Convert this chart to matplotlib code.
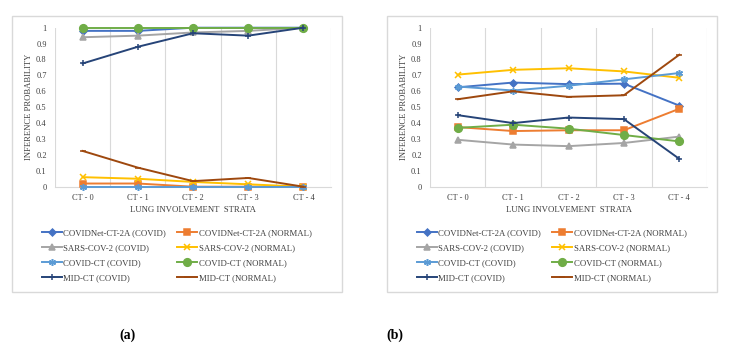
import matplotlib
matplotlib.use("Agg")
import matplotlib.pyplot as plt
from matplotlib.patches import Rectangle

categories = ["CT - 0", "CT - 1", "CT - 2", "CT - 3", "CT - 4"]
series_names = [
    "COVIDNet-CT-2A (COVID)", "COVIDNet-CT-2A (NORMAL)",
    "SARS-COV-2 (COVID)", "SARS-COV-2 (NORMAL)",
    "COVID-CT (COVID)", "COVID-CT (NORMAL)",
    "MID-CT (COVID)", "MID-CT (NORMAL)",
]

# Panel (a)
a_covidnet_covid = [0.98, 0.98, 1.00, 1.00, 1.00]
a_covidnet_normal = [0.02, 0.02, 0.00, 0.00, 0.00]
a_sars_covid = [0.94, 0.95, 0.97, 0.98, 1.00]
a_sars_normal = [0.06, 0.05, 0.03, 0.015, 0.00]
a_covidct_covid = [0.00, 0.00, 0.00, 0.00, 0.00]
a_covidct_normal = [1.00, 1.00, 1.00, 1.00, 1.00]
a_midct_covid = [0.775, 0.88, 0.965, 0.95, 1.00]
a_midct_normal = [0.225, 0.12, 0.035, 0.055, 0.00]

# Panel (b)
b_covidnet_covid = [0.625, 0.655, 0.645, 0.648, 0.51]
b_covidnet_normal = [0.375, 0.35, 0.355, 0.355, 0.49]
b_sars_covid = [0.295, 0.265, 0.255, 0.275, 0.315]
b_sars_normal = [0.705, 0.735, 0.745, 0.725, 0.685]
b_covidct_covid = [0.63, 0.605, 0.635, 0.675, 0.715]
b_covidct_normal = [0.37, 0.39, 0.365, 0.325, 0.285]
b_midct_covid = [0.45, 0.40, 0.435, 0.425, 0.175]
b_midct_normal = [0.55, 0.60, 0.565, 0.575, 0.83]

panel_a = [a_covidnet_covid, a_covidnet_normal, a_sars_covid, a_sars_normal,
           a_covidct_covid, a_covidct_normal, a_midct_covid, a_midct_normal]
panel_b = [b_covidnet_covid, b_covidnet_normal, b_sars_covid, b_sars_normal,
           b_covidct_covid, b_covidct_normal, b_midct_covid, b_midct_normal]

colors = ["#4472C4", "#ED7D31", "#A5A5A5", "#FFC000",
          "#5B9BD5", "#70AD47", "#264478", "#9E480E"]
markers = ["D", "s", "^", "x", (6, 2, 0), "o", "+", "_"]
msizes = [3.5, 4.5, 4.5, 5, 5, 5.5, 5, 4]

plt.rcParams['font.family'] = ['Liberation Serif', 'DejaVu Serif']

W, H = 729, 358
fig = plt.figure(figsize=(W / 100, H / 100), dpi=100)

def fx(px):
    return px / W

def fy(py):
    return 1 - py / H

panels = [
    dict(data=panel_a, box=(12, 16, 342, 292), plot=(55, 27.7, 331, 186.7),
         ylab_x=29, leg=(42, 229), cap="(a)", cap_x=127),
    dict(data=panel_b, box=(387, 16, 717, 292), plot=(430, 27.7, 707, 186.7),
         ylab_x=404, leg=(417, 229), cap="(b)", cap_x=395),
]

TXT = "#404040"
x = list(range(len(categories)))
for p in panels:
    bx0, by0, bx1, by1 = p["box"]
    fig.patches.append(Rectangle((fx(bx0), fy(by1)), fx(bx1 - bx0), (by1 - by0) / H,
                                 transform=fig.transFigure, fill=False,
                                 edgecolor="#D9D9D9", linewidth=1.0))
    px0, py0, px1, py1 = p["plot"]
    ax = fig.add_axes([fx(px0), fy(py1), fx(px1 - px0), (py1 - py0) / H])
    ax.set_xlim(-0.5, 4.5)
    ax.set_ylim(0, 1)
    for b in [-0.5, 0.5, 1.5, 2.5, 3.5, 4.5]:
        ax.axvline(b, color="#D9D9D9", lw=0.8, zorder=0)
    handles = []
    for vals, name, c, m, ms in zip(p["data"], series_names, colors, markers, msizes):
        h, = ax.plot(x, vals, color=c, lw=1.4, marker=m, markersize=ms,
                     markeredgecolor=c, markerfacecolor=c, markeredgewidth=1.1,
                     label=name, clip_on=False, zorder=3)
        handles.append(h)
    for s in ["top", "right", "left"]:
        ax.spines[s].set_visible(False)
    ax.spines["bottom"].set_color("#D9D9D9")
    ax.set_xticks(x)
    ax.set_xticklabels(categories, fontsize=6, color=TXT)
    ax.set_yticks([i / 10 for i in range(11)])
    ax.set_yticklabels(["0", "0.1", "0.2", "0.3", "0.4", "0.5", "0.6", "0.7", "0.8", "0.9", "1"],
                       fontsize=6, color=TXT)
    ax.tick_params(axis="x", length=0, pad=5)
    ax.tick_params(axis="y", length=0, pad=6)
    ax.set_xlabel("LUNG INVOLVEMENT  STRATA", fontsize=6.3, color=TXT, labelpad=3)
    fig.text(fx(p["ylab_x"]), fy((py0 + py1) / 2), "INFERENCE PROBABILITY", rotation=90,
             ha="center", va="center", fontsize=6.2, color=TXT)
    order = handles[0::2] + handles[1::2]
    lx, ly = p["leg"]
    fig.legend(order, [h.get_label() for h in order], ncol=2, frameon=False,
               loc="upper left", bbox_to_anchor=(fx(lx), fy(ly)),
               bbox_transform=fig.transFigure, fontsize=6.3, handlelength=2.3,
               labelspacing=0.8, columnspacing=1.25, handletextpad=0.15,
               borderaxespad=0, borderpad=0, labelcolor=TXT)
    fig.text(fx(p["cap_x"]), fy(335), p["cap"], ha="center", va="center",
             fontsize=10, fontweight="bold")

fig.savefig("out.png", dpi=100)
